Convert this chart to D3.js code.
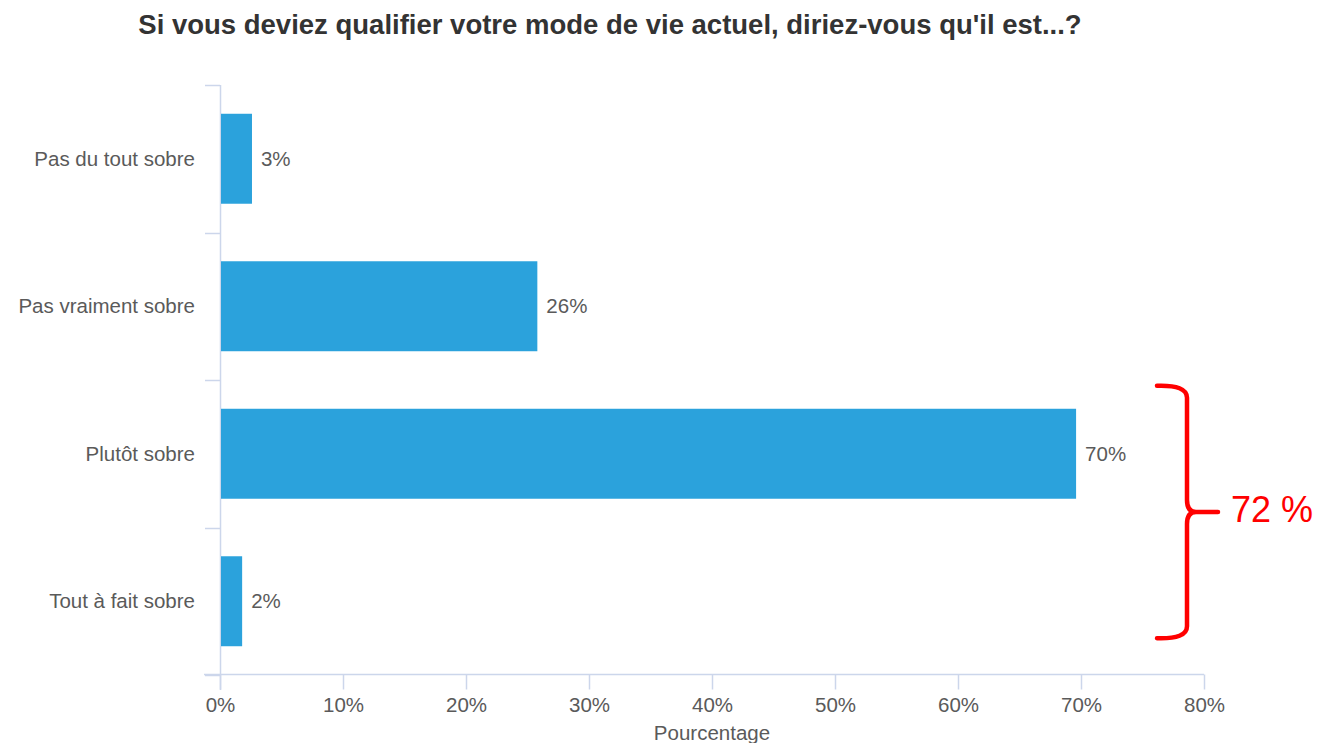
<!DOCTYPE html>
<html lang="fr">
<head>
<meta charset="utf-8">
<script src="https://cdn.jsdelivr.net/npm/d3@7"></script>
<style>
  html, body { margin: 0; padding: 0; background: #fff; }
  svg { display: block; font-family: "Liberation Sans", Arial, sans-serif; }
</style>
</head>
<body>
<svg id="chart" width="1320" height="743"></svg>
<script>
// Survey answers and their shares (percent of respondents)
const categories = ["Pas du tout sobre", "Pas vraiment sobre", "Plutôt sobre", "Tout à fait sobre"];
const values = [2.6, 25.8, 69.6, 1.8];
const xTicks = [0, 10, 20, 30, 40, 50, 60, 70, 80];
const title = "Si vous deviez qualifier votre mode de vie actuel, diriez-vous qu'il est...?";
const xTitle = "Pourcentage";
// Categories grouped by the brace on the right
const bracedCategories = ["Plutôt sobre", "Tout à fait sobre"];

(function draw() {
  const svg = d3.select("#chart");
  const plot = { left: 220, right: 1204, top: 85, bottom: 675 };

  const x = d3.scaleLinear().domain([0, 80]).range([plot.left, plot.right]);
  const y = d3.scaleBand().domain(categories).range([plot.top, plot.bottom])
    .paddingInner(0.39).paddingOuter(0.195);

  const axisColor = "#ccd6eb";
  const labelColor = "#5a5a5a";
  const fontSize = 20.5;
  const pct = d => d3.format(".0f")(d) + "%";

  // Title
  svg.append("text")
    .attr("x", 610).attr("y", 34)
    .attr("text-anchor", "middle")
    .attr("font-size", 27.5).attr("font-weight", "bold")
    .attr("fill", "#333")
    .text(title);

  // Category axis (left)
  const yAxisG = svg.append("g");
  yAxisG.append("line")
    .attr("x1", plot.left + 0.5).attr("x2", plot.left + 0.5)
    .attr("y1", plot.top).attr("y2", plot.bottom + 15)
    .attr("stroke", axisColor).attr("stroke-width", 1.5);
  const bounds = categories.map(c => y(c) - y.step() * y.paddingOuter()).concat([plot.bottom]);
  yAxisG.selectAll("line.tick").data(bounds).join("line")
    .attr("class", "tick")
    .attr("x1", plot.left - 15).attr("x2", plot.left)
    .attr("y1", d => Math.round(d) + 0.5).attr("y2", d => Math.round(d) + 0.5)
    .attr("stroke", axisColor).attr("stroke-width", 1.5);
  yAxisG.selectAll("text").data(categories).join("text")
    .attr("x", plot.left - 25)
    .attr("y", d => y(d) + y.bandwidth() / 2)
    .attr("dy", "0.35em")
    .attr("text-anchor", "end")
    .attr("font-size", fontSize)
    .attr("fill", labelColor)
    .text(d => d);

  // Value axis (bottom)
  const xAxis = d3.axisBottom(x).tickValues(xTicks).tickSize(15).tickPadding(8).tickFormat(d => d + "%");
  const xAxisG = svg.append("g")
    .attr("transform", `translate(0,${plot.bottom - 0.5})`)
    .call(xAxis);
  xAxisG.select(".domain").remove();
  xAxisG.append("line")
    .attr("x1", plot.left - 16).attr("x2", plot.right)
    .attr("y1", 0).attr("y2", 0)
    .attr("stroke", axisColor).attr("stroke-width", 1.5);
  xAxisG.selectAll(".tick line").attr("stroke", axisColor).attr("stroke-width", 1.5);
  xAxisG.selectAll(".tick text")
    .attr("font-size", fontSize)
    .attr("font-family", "Liberation Sans, Arial, sans-serif")
    .attr("fill", labelColor);

  svg.append("text")
    .attr("x", (plot.left + plot.right) / 2).attr("y", 740)
    .attr("text-anchor", "middle")
    .attr("font-size", fontSize)
    .attr("fill", labelColor)
    .text(xTitle);

  // Bars
  const data = categories.map((c, i) => ({ c, v: values[i] }));
  svg.append("g").selectAll("rect").data(data).join("rect")
    .attr("x", x(0) + 1)
    .attr("y", d => y(d.c))
    .attr("width", d => x(d.v) - x(0) - 1)
    .attr("height", y.bandwidth())
    .attr("fill", "#2ba2dc");

  // Value labels
  svg.append("g").selectAll("text").data(data).join("text")
    .attr("x", d => x(d.v) + 9)
    .attr("y", d => y(d.c) + y.bandwidth() / 2)
    .attr("dy", "0.35em")
    .attr("font-size", fontSize)
    .attr("fill", labelColor)
    .text(d => pct(d.v));

  // Brace grouping the two "sobre" answers, with their combined share
  const braceTop = y(bracedCategories[0]) - 23;
  const braceBot = y(bracedCategories[bracedCategories.length - 1]) + y.bandwidth() - 8;
  const mid = (braceTop + braceBot) / 2;
  const bx0 = 1157, bx = 1187, tip = 1218;
  const p = d3.path();
  p.moveTo(bx0, braceTop);
  p.quadraticCurveTo(bx, braceTop - 1, bx, braceTop + 12);
  p.lineTo(bx, mid - 12);
  p.quadraticCurveTo(bx, mid, bx + 9, mid);
  p.lineTo(tip, mid);
  p.moveTo(bx + 9, mid);
  p.quadraticCurveTo(bx, mid, bx, mid + 12);
  p.lineTo(bx, braceBot - 12);
  p.quadraticCurveTo(bx, braceBot + 1, bx0, braceBot);
  svg.append("path")
    .attr("d", p.toString())
    .attr("fill", "none")
    .attr("stroke", "#ff0000")
    .attr("stroke-width", 4.5)
    .attr("stroke-linecap", "round")
    .attr("stroke-linejoin", "round");

  const groupTotal = d3.sum(data.filter(d => bracedCategories.includes(d.c)), d => Math.round(d.v));
  svg.append("text")
    .attr("x", 1231).attr("y", mid + 10)
    .attr("font-size", 36)
    .attr("fill", "#ff0000")
    .text(groupTotal + " %");
})();
</script>
</body>
</html>
